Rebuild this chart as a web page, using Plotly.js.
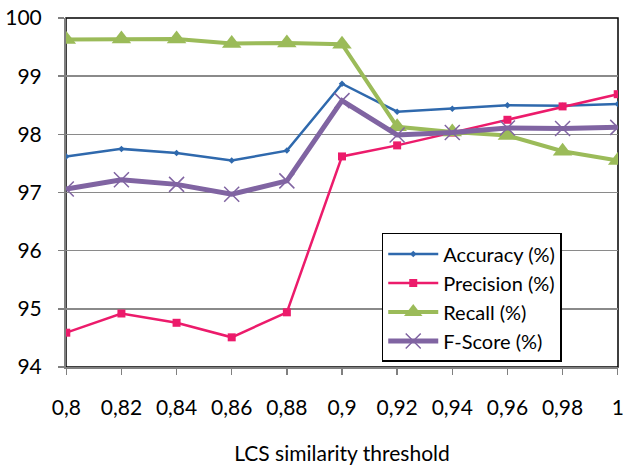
<!DOCTYPE html>
<html>
<head>
<meta charset="utf-8">
<script src="https://cdn.plot.ly/plotly-3.0.1.min.js"></script>
<style>
  html, body { margin: 0; padding: 0; background: #fff; }
  #chart { width: 623px; height: 465px; }
</style>
</head>
<body>
<div id="chart"></div>
<script>
// LCS similarity thresholds
const thresholds = [0.80, 0.82, 0.84, 0.86, 0.88, 0.90, 0.92, 0.94, 0.96, 0.98, 1.00];
const thresholdLabels = ["0,8", "0,82", "0,84", "0,86", "0,88", "0,9", "0,92", "0,94", "0,96", "0,98", "1"];

// Metric values (%) per threshold
const accuracy  = [97.62, 97.75, 97.68, 97.55, 97.72, 98.87, 98.39, 98.44, 98.50, 98.49, 98.52];
const precision = [94.59, 94.92, 94.76, 94.51, 94.94, 97.62, 97.81, 98.03, 98.25, 98.48, 98.69];
const recall    = [99.63, 99.64, 99.64, 99.56, 99.57, 99.55, 98.13, 98.04, 97.98, 97.71, 97.55];
const fscore    = [97.06, 97.22, 97.14, 96.97, 97.20, 98.58, 97.99, 98.03, 98.11, 98.10, 98.12];

const yTicks = [94, 95, 96, 97, 98, 99, 100];

const FONT = "Lato, 'Open Sans', sans-serif";

const traces = [
  {
    x: thresholds, y: accuracy, name: "Accuracy (%)", mode: "lines+markers",
    line: { color: "#2F69AD", width: 2.5 },
    marker: { symbol: "diamond", size: 5, color: "#2F69AD" }
  },
  {
    x: thresholds, y: precision, name: "Precision (%)", mode: "lines+markers",
    line: { color: "#EC1B6B", width: 2.5 },
    marker: { symbol: "square", size: 8, color: "#EC1B6B" }
  },
  {
    x: thresholds, y: recall, name: "Recall (%)", mode: "lines+markers",
    line: { color: "#9BBB59", width: 4 },
    marker: { symbol: "triangle-up", size: 17, color: "#9BBB59" }
  },
  {
    x: thresholds, y: fscore, name: "F-Score (%)", mode: "lines+markers",
    line: { color: "#8064A2", width: 5 },
    marker: { symbol: "x-thin", size: 15, line: { color: "#8064A2", width: 1.5 }, color: "#8064A2" }
  }
];

const layout = {
  width: 623, height: 465,
  margin: { l: 66, r: 5, t: 18, b: 98 },
  paper_bgcolor: "#ffffff",
  plot_bgcolor: "#ffffff",
  font: { family: FONT, size: 20, color: "#000" },
  showlegend: true,
  legend: {
    x: 0.572, y: 0.384, xanchor: "left", yanchor: "top",
    bgcolor: "#ffffff", bordercolor: "#000", borderwidth: 1.5,
    font: { family: FONT, size: 20, color: "#000" },
    tracegroupgap: 0, itemwidth: 50
  },
  xaxis: {
    range: [0.7999, 1.0001],
    tickmode: "array", tickvals: thresholds, ticktext: thresholdLabels,
    showgrid: false, zeroline: false,
    showline: true, linecolor: "#808080", linewidth: 2,
    ticks: "outside", ticklen: 6, tickcolor: "#808080", tickwidth: 1.5,
    ticklabelstandoff: 15,
    ticklabeloverflow: "allow",
    tickfont: { family: FONT, size: 21, color: "#000" },
    title: { text: "LCS similarity threshold", font: { family: FONT, size: 21, color: "#000" }, standoff: 28 },
    automargin: false, fixedrange: true
  },
  yaxis: {
    range: [94, 100],
    tickmode: "array", tickvals: yTicks,
    showgrid: true, gridcolor: "#8a8a8a", gridwidth: 1.5,
    zeroline: false,
    showline: true, linecolor: "#808080", linewidth: 2,
    ticks: "outside", ticklen: 6, tickcolor: "#808080", tickwidth: 1.5,
    ticklabelstandoff: 12,
    tickfont: { family: FONT, size: 21, color: "#000" },
    automargin: false, fixedrange: true
  },
  shapes: [
    {
      type: "rect", xref: "paper", yref: "paper", x0: 0, x1: 1, y0: 0, y1: 1,
      line: { color: "#000", width: 1.5 }, layer: "below"
    }
  ]
};

Plotly.newPlot("chart", traces, layout, { displayModeBar: false, staticPlot: true });
</script>
</body>
</html>
